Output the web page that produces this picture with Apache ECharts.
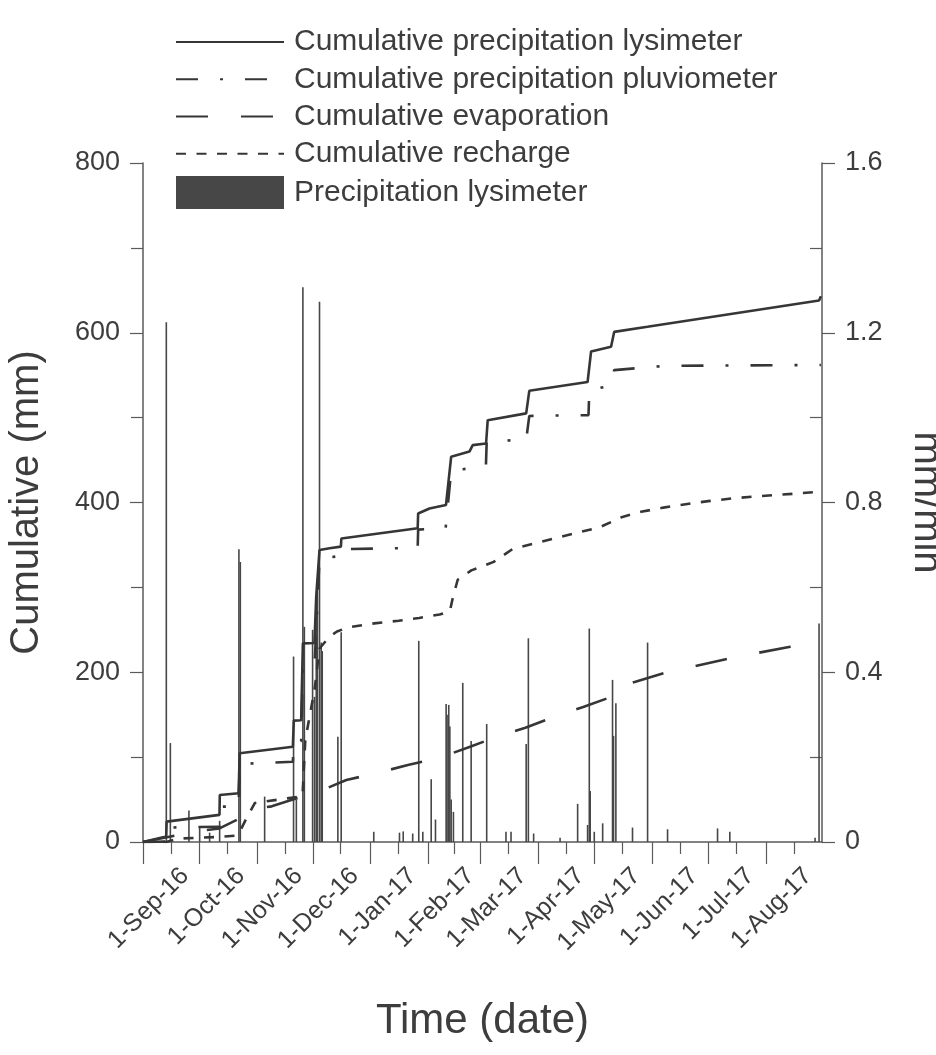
<!DOCTYPE html>
<html><head><meta charset="utf-8">
<script src="https://cdn.jsdelivr.net/npm/echarts@6/dist/echarts.min.js"></script>
<style>html,body{margin:0;padding:0;background:#fff}#c{width:936px;height:1055px}</style>
</head><body><div id="c"></div>
<script>
// ---------- tick labels ----------
const xTickDates = ['2016-09-01','2016-10-01','2016-11-01','2016-12-01','2017-01-01','2017-02-01','2017-03-01','2017-04-01','2017-05-01','2017-06-01','2017-07-01','2017-08-01'];
const xTickLabels = ['1-Sep-16','1-Oct-16','1-Nov-16','1-Dec-16','1-Jan-17','1-Feb-17','1-Mar-17','1-Apr-17','1-May-17','1-Jun-17','1-Jul-17','1-Aug-17'];
const xMinorDates = ['2016-09-16','2016-10-16','2016-11-16','2016-12-16','2017-01-16','2017-02-15','2017-03-16','2017-04-16','2017-05-16','2017-06-16','2017-07-16','2017-08-16'];
const rightMinorTicks = [0.2, 0.6, 1.0, 1.4];

// ---------- series data ----------
const lysimeterCum = [
 ['2016-09-01 00:00', 0], ['2016-09-11 17:00', 5.5], ['2016-09-13 10:00', 6], ['2016-09-13 16:00', 24],
 ['2016-10-12 00:00', 32], ['2016-10-12 04:00', 55.4], ['2016-10-22 06:00', 57.4], ['2016-10-22 20:00', 104.5],
 ['2016-11-20 08:00', 112.3], ['2016-11-20 20:00', 143], ['2016-11-24 19:00', 143.5], ['2016-11-25 17:00', 234],
 ['2016-12-01 22:00', 234.5], ['2016-12-02 21:00', 290], ['2016-12-04 15:00', 344], ['2016-12-10 00:00', 346],
 ['2016-12-16 02:00', 348], ['2016-12-16 08:00', 357.5], ['2017-01-26 06:00', 369.6], ['2017-01-26 12:00', 387],
 ['2017-02-01 14:00', 393], ['2017-02-10 10:00', 397], ['2017-02-13 05:00', 454], ['2017-02-23 00:00', 460],
 ['2017-02-24 18:00', 467.6], ['2017-03-03 22:00', 469.5], ['2017-03-04 19:00', 497], ['2017-03-25 10:00', 505],
 ['2017-03-27 02:00', 531.6], ['2017-04-27 08:00', 542], ['2017-04-29 05:00', 578], ['2017-05-09 22:00', 583.4],
 ['2017-05-11 14:00', 601], ['2017-05-29 10:00', 607], ['2017-05-29 16:00', 609], ['2017-08-29 10:00', 638],
 ['2017-08-30 10:00', 643]
];
const pluviometerCum = [
 ['2016-09-01 00:00', 0], ['2016-09-13 10:00', 0.5], ['2016-09-13 16:00', 17], ['2016-10-12 00:00', 18],
 ['2016-10-12 06:00', 41.6], ['2016-10-22 06:00', 42], ['2016-10-22 20:00', 92], ['2016-11-20 08:00', 94.6],
 ['2016-11-20 20:00', 118], ['2016-11-24 19:00', 119], ['2016-11-25 17:00', 205], ['2016-12-01 22:00', 206],
 ['2016-12-04 15:00', 334], ['2016-12-16 02:00', 337], ['2016-12-16 08:00', 345], ['2017-01-26 06:00', 346.5],
 ['2017-01-26 12:00', 368], ['2017-02-10 06:00', 370], ['2017-02-10 20:00', 383], ['2017-02-13 05:00', 438],
 ['2017-02-23 00:00', 440], ['2017-03-03 20:00', 443], ['2017-03-04 06:00', 472], ['2017-03-25 10:00', 474],
 ['2017-03-27 02:00', 502], ['2017-04-27 20:00', 503], ['2017-04-28 06:00', 532], ['2017-05-09 22:00', 538],
 ['2017-05-11 14:00', 556], ['2017-06-08 00:00', 561], ['2017-08-30 10:00', 562]
];
const evaporationCum = [
 ['2016-09-01 00:00', 0], ['2016-10-01 00:00', 13], ['2016-10-12 00:00', 16], ['2016-11-03 00:00', 40],
 ['2016-11-09 00:00', 42], ['2016-12-06 00:00', 61], ['2016-12-19 00:00', 73], ['2017-01-05 00:00', 81.6],
 ['2017-01-21 00:00', 90.7], ['2017-02-08 00:00', 100], ['2017-02-23 00:00', 112], ['2017-03-11 00:00', 125],
 ['2017-03-25 00:00', 134.6], ['2017-04-10 00:00', 148], ['2017-04-25 00:00', 159], ['2017-05-10 00:00', 171],
 ['2017-05-13 00:00', 182.6], ['2017-05-23 00:00', 188.8], ['2017-06-08 00:00', 199.4], ['2017-06-24 00:00', 207.3],
 ['2017-07-11 00:00', 215.5], ['2017-07-28 00:00', 223], ['2017-08-14 00:00', 230], ['2017-08-30 10:00', 236]
];
const rechargeCum = [
 ['2016-09-01 00:00', 0], ['2016-09-13 12:00', 0], ['2016-09-20 00:00', 4], ['2016-10-12 00:00', 6],
 ['2016-10-21 00:00', 7.5], ['2016-10-22 20:00', 12], ['2016-10-26 12:00', 28], ['2016-10-31 00:00', 46],
 ['2016-11-16 00:00', 51], ['2016-11-25 12:00', 54], ['2016-11-27 00:00', 120], ['2016-12-02 00:00', 180],
 ['2016-12-04 15:00', 228], ['2016-12-10 00:00', 242], ['2016-12-14 00:00', 248], ['2016-12-20 00:00', 253],
 ['2017-01-03 00:00', 257.6], ['2017-01-16 00:00', 260.7], ['2017-01-27 00:00', 264], ['2017-02-07 00:00', 268],
 ['2017-02-12 12:00', 272], ['2017-02-14 00:00', 287], ['2017-02-16 17:00', 309], ['2017-02-24 00:00', 320],
 ['2017-03-01 00:00', 324], ['2017-03-08 00:00', 330], ['2017-03-12 00:00', 336], ['2017-03-18 00:00', 345],
 ['2017-03-23 00:00', 348], ['2017-04-01 00:00', 353], ['2017-04-12 00:00', 359], ['2017-04-23 00:00', 365],
 ['2017-05-04 00:00', 371], ['2017-05-16 00:00', 383], ['2017-05-26 00:00', 389], ['2017-06-07 00:00', 394],
 ['2017-06-19 00:00', 398], ['2017-07-01 00:00', 401.6], ['2017-07-14 00:00', 404.8], ['2017-07-25 00:00', 407],
 ['2017-08-07 00:00', 409], ['2017-08-18 00:00', 410.6], ['2017-08-30 10:00', 413]
];
const precipLysimeter = [
 ['2016-09-13 12:00', 1.225], ['2016-09-15 16:00', 0.233], ['2016-09-25 15:00', 0.074], ['2016-10-01 09:00', 0.036],
 ['2016-10-06 17:00', 0.022], ['2016-10-12 02:00', 0.05], ['2016-10-22 10:00', 0.69], ['2016-10-23 04:00', 0.66],
 ['2016-11-05 05:00', 0.107], ['2016-11-20 17:00', 0.437], ['2016-11-22 05:00', 0.10], ['2016-11-25 17:00', 1.307],
 ['2016-11-26 12:00', 0.507], ['2016-11-30 22:00', 0.50], ['2016-12-01 23:00', 0.342], ['2016-12-02 21:00', 0.55],
 ['2016-12-03 12:00', 0.60], ['2016-12-04 15:00', 1.273], ['2016-12-05 13:00', 0.47], ['2016-12-06 02:00', 0.45],
 ['2016-12-14 11:00', 0.248], ['2016-12-16 06:00', 0.494], ['2017-01-02 17:00', 0.024], ['2017-01-16 12:00', 0.022],
 ['2017-01-18 12:00', 0.025], ['2017-01-23 14:00', 0.02], ['2017-01-26 20:00', 0.474], ['2017-01-29 00:00', 0.024],
 ['2017-02-02 12:00', 0.148], ['2017-02-04 19:00', 0.053], ['2017-02-10 12:00', 0.325], ['2017-02-11 00:00', 0.30],
 ['2017-02-11 22:00', 0.323], ['2017-02-12 12:00', 0.272], ['2017-02-13 05:00', 0.10], ['2017-02-14 10:00', 0.071],
 ['2017-02-19 10:00', 0.375], ['2017-02-23 22:00', 0.238], ['2017-03-04 06:00', 0.278], ['2017-03-14 14:00', 0.024],
 ['2017-03-17 07:00', 0.024], ['2017-03-25 10:00', 0.231], ['2017-03-26 14:00', 0.48], ['2017-03-29 10:00', 0.02],
 ['2017-04-12 14:00', 0.01], ['2017-04-22 00:00', 0.09], ['2017-04-27 08:00', 0.04], ['2017-04-28 06:00', 0.503],
 ['2017-04-28 18:00', 0.12], ['2017-04-30 22:00', 0.024], ['2017-05-05 10:00', 0.044], ['2017-05-10 17:00', 0.382],
 ['2017-05-11 06:00', 0.25], ['2017-05-12 12:00', 0.327], ['2017-05-21 10:00', 0.034], ['2017-05-29 12:00', 0.47],
 ['2017-06-09 05:00', 0.03], ['2017-07-06 00:00', 0.032], ['2017-07-12 14:00', 0.024], ['2017-08-27 07:00', 0.01],
 ['2017-08-29 10:00', 0.515]
];

// ---------- helpers ----------
function t(s) { const p = s.split(/[- :]/).map(Number); return new Date(p[0], p[1]-1, p[2], p[3]||0, p[4]||0).getTime(); }
const ts = arr => arr.map(d => [t(d[0]), d[1]]);
const xTickTimes = xTickDates.map(t);
const xMinorTimes = xMinorDates.map(t);
const X_MIN = t('2016-09-01'), X_MAX = t('2017-08-31');
const FONT = 'Liberation Sans, Arial, sans-serif';
const TXT = '#3d3d3d';
const AX = '#5a5a5a';
const LINE = '#363636';
const HIDE_SYMBOL = {opacity: 0};
const GRID = {left: 143, right: 114, top: 163, bottom: 213};
const LABEL_SHIFT = 42; // SigmaPlot-style label placement right of each tick

const chart = echarts.init(document.getElementById('c'), null, {renderer: 'canvas'});
chart.setOption({
  animation: false,
  backgroundColor: '#fff',
  textStyle: {fontFamily: FONT},
  legend: {
    orient: 'vertical', left: 175, top: 27, padding: 0,
    itemWidth: 108, itemHeight: 33, itemGap: 7.25,
    textStyle: {fontSize: 30, color: TXT, fontFamily: FONT, padding: [0, 0, 0, 5]},
    data: [
      {name: 'Cumulative precipitation lysimeter', itemStyle: HIDE_SYMBOL},
      {name: 'Cumulative precipitation pluviometer', itemStyle: HIDE_SYMBOL},
      {name: 'Cumulative evaporation', itemStyle: HIDE_SYMBOL},
      {name: 'Cumulative recharge', itemStyle: HIDE_SYMBOL},
      {name: 'Precipitation lysimeter', icon: 'rect'}
    ]
  },
  grid: [
    Object.assign({outerBoundsMode: 'none', containLabel: false}, GRID),
    Object.assign({outerBoundsMode: 'none', containLabel: false}, GRID),
    {left: GRID.left + LABEL_SHIFT, right: GRID.right - LABEL_SHIFT, top: GRID.top, bottom: GRID.bottom,
     outerBoundsMode: 'none', containLabel: false}
  ],
  xAxis: [
    {
      type: 'value', gridIndex: 0, min: X_MIN, max: X_MAX,
      name: 'Time (date)', nameLocation: 'middle', nameGap: 158,
      nameTextStyle: {fontSize: 42, color: TXT, fontFamily: FONT, verticalAlign: 'top'},
      axisLine: {show: true, lineStyle: {color: AX, width: 1.5}},
      axisTick: {show: true, length: 22, customValues: xTickTimes, lineStyle: {color: AX, width: 1.2}},
      axisLabel: {show: false},
      splitLine: {show: false}
    },
    {
      type: 'value', gridIndex: 1, min: X_MIN, max: X_MAX,
      axisLine: {show: false},
      axisTick: {show: true, length: 12, customValues: xMinorTimes, lineStyle: {color: AX, width: 1.2}},
      axisLabel: {show: false}, splitLine: {show: false}
    },
    {
      type: 'value', gridIndex: 2, min: X_MIN, max: X_MAX,
      axisLine: {show: false}, axisTick: {show: false}, splitLine: {show: false},
      axisLabel: {
        show: true, customValues: xTickTimes, rotate: 45, fontSize: 25, lineHeight: 25, color: TXT, fontFamily: FONT,
        margin: 30, hideOverlap: false, showMinLabel: true, showMaxLabel: true,
        formatter: function (v) {
          let best = -1, bd = Infinity;
          xTickTimes.forEach((tt, i) => { const d = Math.abs(tt - v); if (d < bd) { bd = d; best = i; } });
          return bd < 86400000 ? xTickLabels[best] : '';
        }
      }
    }
  ],
  yAxis: [
    {
      type: 'value', gridIndex: 0, position: 'left', min: 0, max: 800, interval: 200,
      name: 'Cumulative (mm)', nameLocation: 'middle', nameGap: 96,
      nameTextStyle: {fontSize: 40, color: TXT, fontFamily: FONT},
      axisLine: {show: true, lineStyle: {color: AX, width: 1.5}},
      axisTick: {show: true, length: 13, lineStyle: {color: AX, width: 1.2}},
      minorTick: {show: true, splitNumber: 2, length: 12, lineStyle: {color: AX, width: 1.2}},
      axisLabel: {fontSize: 27, color: TXT, fontFamily: FONT, margin: 23},
      splitLine: {show: false}, minorSplitLine: {show: false}
    },
    {
      type: 'value', gridIndex: 0, position: 'right', min: 0, max: 1.6, interval: 0.4,
      name: 'mm/min', nameLocation: 'middle', nameGap: 84, nameRotate: -90,
      nameTextStyle: {fontSize: 40, color: TXT, fontFamily: FONT},
      axisLine: {show: true, lineStyle: {color: AX, width: 1.5}},
      axisTick: {show: true, length: 13, lineStyle: {color: AX, width: 1.2}},
      axisLabel: {fontSize: 27, color: TXT, fontFamily: FONT, margin: 23,
        formatter: v => (v === 0 ? '0' : v.toFixed(1))},
      splitLine: {show: false}
    },
    {
      type: 'value', gridIndex: 1, position: 'right', min: 0, max: 1.6,
      axisLine: {show: false},
      axisTick: {show: true, inside: true, length: 12, customValues: rightMinorTicks, lineStyle: {color: AX, width: 1.2}},
      axisLabel: {show: false}, splitLine: {show: false}
    },
    {
      type: 'value', gridIndex: 2, min: 0, max: 1, show: false
    }
  ],
  series: [
    {
      name: 'Precipitation lysimeter', type: 'bar', xAxisIndex: 0, yAxisIndex: 1,
      barWidth: 1.6, itemStyle: {color: '#474747'}, z: 1, data: ts(precipLysimeter)
    },
    {
      name: 'Cumulative precipitation lysimeter', type: 'line', xAxisIndex: 0, yAxisIndex: 0,
      symbol: 'none', showSymbol: false, z: 3,
      lineStyle: {color: LINE, width: 2.6, type: 'solid'}, itemStyle: {color: LINE}, data: ts(lysimeterCum)
    },
    {
      name: 'Cumulative precipitation pluviometer', type: 'line', xAxisIndex: 0, yAxisIndex: 0,
      symbol: 'none', showSymbol: false, z: 3,
      lineStyle: {color: LINE, width: 2.6, type: [22, 22, 3, 22]}, itemStyle: {color: LINE}, data: ts(pluviometerCum)
    },
    {
      name: 'Cumulative evaporation', type: 'line', xAxisIndex: 0, yAxisIndex: 0,
      symbol: 'none', showSymbol: false, z: 3,
      lineStyle: {color: LINE, width: 2.6, type: [32, 33]}, itemStyle: {color: LINE}, data: ts(evaporationCum)
    },
    {
      name: 'Cumulative recharge', type: 'line', xAxisIndex: 0, yAxisIndex: 0,
      symbol: 'none', showSymbol: false, z: 3,
      lineStyle: {color: LINE, width: 2.6, type: [10, 10.5]}, itemStyle: {color: LINE}, data: ts(rechargeCum)
    }
  ]
});
</script>
</body></html>
